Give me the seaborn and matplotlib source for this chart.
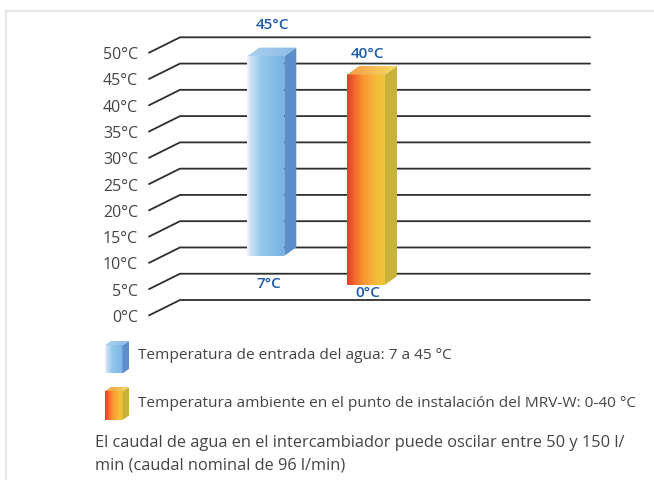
import numpy as np
import pandas as pd
import matplotlib
matplotlib.use("Agg")
import matplotlib.pyplot as plt
import seaborn as sns
from matplotlib.colors import LinearSegmentedColormap
from matplotlib.patches import Polygon


TICKS = [0, 5, 10, 15, 20, 25, 30, 35, 40, 45, 50]
TICK_LABELS = ["0°C", "5°C", "10°C", "15°C", "20°C", "25°C",
               "30°C", "35°C", "40°C", "45°C", "50°C"]

SERIES = [
    "Temperatura de entrada del agua: 7 a 45 °C",
    "Temperatura ambiente en el punto de instalación del MRV-W: 0-40 °C",
]
LOW = [7, 0]
HIGH = [45, 40]
LOW_LABELS = ["7°C", "0°C"]
HIGH_LABELS = ["45°C", "40°C"]

NOTE_LINES = [
    "El caudal de agua en el intercambiador puede oscilar entre 50 y 150 l/",
    "min (caudal nominal de 96 l/min)",
]

# canvas / layout (pixels)
W, H = 654, 480
PX_PER_DEG = 5.254
ZERO_PX = 300
DEPTH_X = 31
DEPTH_T = 15.4 / PX_PER_DEG

BAR_X0 = [247.3, 347.3]
BAR_W = [37, 37.7]
SIDE_DX = 12
SIDE_DT = 8.6 / PX_PER_DEG
LIFT = [1.4, 2.9]
TOP_PAD = [(7, 31), (1, 21)]
BOTTOM_PAD = [(3, -28), (1.5, -8)]

TEXT_COLOR = "#444444"
VALUE_COLOR = "#1d5bab"
GRID_COLOR = "#2e2e2e"

BLUE_FRONT = [(0, "#fdeef5"), (0.12, "#c6dff3"), (0.4, "#94c7ec"), (1, "#79b3e2")]
BLUE_SIDE = "#5b8ecb"
BLUE_TOP = [(0, "#a9d1f1"), (1, "#8dbbe5")]
ORANGE_FRONT = [(0, "#e8382a"), (0.2, "#f26a2d"), (0.45, "#f99832"),
                (0.8, "#f4bd39"), (1, "#f1c53d")]
ORANGE_SIDE = "#c9b23a"
ORANGE_TOP = [(0, "#f49a45"), (1, "#f5dc66")]

PALETTES = [
    (BLUE_FRONT, BLUE_SIDE, BLUE_TOP),
    (ORANGE_FRONT, ORANGE_SIDE, ORANGE_TOP),
]


def gradient(ax, x0, x1, y0, y1, stops, clip=None, z=3):
    cmap = LinearSegmentedColormap.from_list("g", stops)
    img = ax.imshow(np.linspace(0, 1, 256)[None, :], cmap=cmap,
                    extent=[x0, x1, y0, y1], aspect="auto",
                    interpolation="bilinear", zorder=z)
    if clip is not None:
        img.set_clip_path(clip)
    return img


def draw_box(ax, x0, w, y0, y1, dx, dy, palette, z=3):
    front, side, top = palette
    gradient(ax, x0, x0 + w, y0, y1, front, z=z)
    ax.add_patch(Polygon([(x0 + w, y0), (x0 + w + dx, y0 + dy),
                          (x0 + w + dx, y1 + dy), (x0 + w, y1)],
                         closed=True, facecolor=side, edgecolor="none", zorder=z))
    top_poly = Polygon([(x0, y1), (x0 + dx, y1 + dy),
                        (x0 + w + dx, y1 + dy), (x0 + w, y1)],
                       closed=True, facecolor="none", edgecolor="none",
                       transform=ax.transData)
    ax.add_patch(top_poly)
    gradient(ax, x0, x0 + w + dx, y1, y1 + dy, top, clip=top_poly, z=z)


sns.set_theme(style="white")
plt.rcParams["font.family"] = ["Open Sans", "DejaVu Sans"]

fig = plt.figure(figsize=(W / 100, H / 100), dpi=100)
ax = fig.add_axes([0, 0, 1, 1])
lg = fig.add_axes([0, 0, 1, 1])
lg.patch.set_alpha(0)

# grid lines with a perspective kink on the left
grid = pd.DataFrame({
    "tick": np.repeat(TICKS, 3),
    "x": np.tile([149, 180, 590], len(TICKS)),
    "y": np.concatenate([[t - DEPTH_T, t, t] for t in TICKS]),
})
sns.lineplot(data=grid, x="x", y="y", units="tick", estimator=None,
             sort=False, color=GRID_COLOR, linewidth=1.3, ax=ax, zorder=1)

for t, lab in zip(TICKS, TICK_LABELS):
    ax.text(138, t - 3.4, lab, ha="right", va="center",
            fontsize=11.5, color=TEXT_COLOR)

# floating 3D bars
for i in range(len(SERIES)):
    lo = LOW[i] + LIFT[i]
    hi = HIGH[i] + LIFT[i]
    draw_box(ax, BAR_X0[i], BAR_W[i], lo, hi, SIDE_DX, SIDE_DT, PALETTES[i])
    cx = BAR_X0[i] + BAR_W[i] / 2
    ax.annotate(HIGH_LABELS[i], (cx, hi), xytext=(TOP_PAD[i][0] * 0.72, TOP_PAD[i][1] * 0.72),
                textcoords="offset points", ha="center", va="center",
                fontsize=11, fontweight="semibold", color=VALUE_COLOR)
    ax.annotate(LOW_LABELS[i], (cx, lo), xytext=(BOTTOM_PAD[i][0] * 0.72, BOTTOM_PAD[i][1] * 0.72),
                textcoords="offset points", ha="center", va="center",
                fontsize=11, fontweight="semibold", color=VALUE_COLOR)

ax.set_xlim(0, W)
ax.set_ylim((ZERO_PX - H) / PX_PER_DEG, ZERO_PX / PX_PER_DEG)
ax.axis("off")

# legend and note in pixel space
legend_rows = [(104.5, 373.5, 345.5), (104.5, 420, 391.5)]
legend_text_y = [355.5, 403.5]
for i, (x0, yb, yt) in enumerate(legend_rows):
    draw_box(lg, x0, 18, yb, yt, 6.5, -4.5, PALETTES[i])
    lg.text(138, legend_text_y[i], SERIES[i], ha="left", va="center",
            fontsize=11.1, color=TEXT_COLOR)

for k, line in enumerate(NOTE_LINES):
    lg.text(95, 443 + k * 22.5, line, ha="left", va="center",
            fontsize=11.8, color=TEXT_COLOR)

lg.plot([6, W], [11, 11], color="#e6e6e6", linewidth=1.6)
lg.plot([6, 6], [11, H], color="#e6e6e6", linewidth=1.6)

lg.set_xlim(0, W)
lg.set_ylim(H, 0)
lg.axis("off")

fig.savefig("out.png", dpi=100)
